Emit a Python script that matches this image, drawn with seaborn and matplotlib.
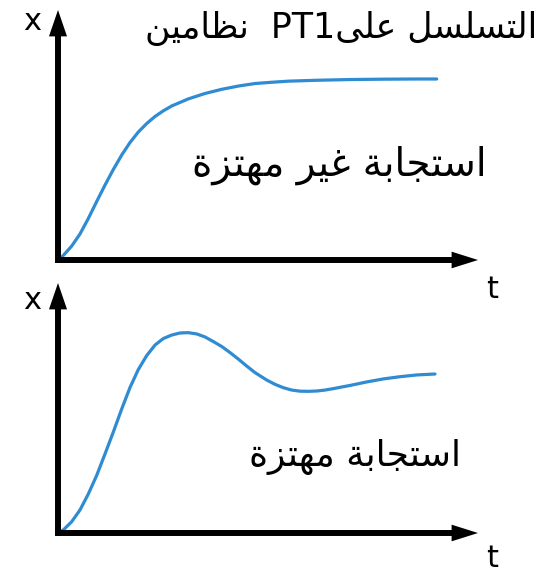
import numpy as np
import pandas as pd
import matplotlib
matplotlib.use("Agg")
import matplotlib.pyplot as plt
import seaborn as sns

# ---- data -------------------------------------------------------------
# non-oscillating step response (aperiodic)
t_aper = [0.0, 0.126, 0.326, 0.524, 0.721, 0.921, 1.119, 1.317, 1.517, 1.714,
          1.912, 2.112, 2.310, 2.507, 2.707, 3.102, 3.500, 3.898, 4.293, 4.690,
          5.088, 5.483, 6.160, 6.952, 7.745, 8.540, 9.017]
x_aper = [0.0, 0.025, 0.077, 0.144, 0.229, 0.323, 0.414, 0.500, 0.580, 0.649,
          0.707, 0.754, 0.793, 0.824, 0.851, 0.890, 0.920, 0.943, 0.961, 0.975,
          0.982, 0.988, 0.993, 0.997, 0.999, 1.0, 1.0]

# oscillating step response
t_osc = [0.0, 0.126, 0.326, 0.524, 0.721, 0.921, 1.119, 1.317, 1.517, 1.714,
         1.912, 2.112, 2.310, 2.507, 2.707, 2.905, 3.102, 3.302, 3.500, 3.698,
         3.898, 4.095, 4.293, 4.493, 4.690, 4.969, 5.167, 5.364, 5.564, 5.762,
         5.960, 6.160, 6.357, 6.555, 6.952, 7.350, 7.745, 8.143, 8.540, 8.976]
x_osc = [0.0, 0.019, 0.071, 0.145, 0.245, 0.362, 0.497, 0.635, 0.780, 0.915,
         1.028, 1.116, 1.182, 1.223, 1.245, 1.258, 1.260, 1.252, 1.233, 1.204,
         1.173, 1.135, 1.094, 1.050, 1.009, 0.962, 0.935, 0.914, 0.899, 0.892,
         0.891, 0.893, 0.899, 0.908, 0.928, 0.950, 0.969, 0.983, 0.994, 1.0]

title_parts = ["نظامين", "  PT1", "على", " ", "التسلسل"]
label_aper = "استجابة غير مهتزة"
label_osc = "استجابة مهتزة"
axis_x_label = "x"
axis_t_label = "t"

# ---- minimal Arabic shaping (contextual forms, visual order) ---------
FORMS = {
    "ا": ("\uFE8D", "\uFE8E", None, None),
    "ب": ("\uFE8F", "\uFE90", "\uFE91", "\uFE92"),
    "ة": ("\uFE93", "\uFE94", None, None),
    "ت": ("\uFE95", "\uFE96", "\uFE97", "\uFE98"),
    "ج": ("\uFE9D", "\uFE9E", "\uFE9F", "\uFEA0"),
    "ر": ("\uFEAD", "\uFEAE", None, None),
    "ز": ("\uFEAF", "\uFEB0", None, None),
    "س": ("\uFEB1", "\uFEB2", "\uFEB3", "\uFEB4"),
    "ظ": ("\uFEC5", "\uFEC6", "\uFEC7", "\uFEC8"),
    "ع": ("\uFEC9", "\uFECA", "\uFECB", "\uFECC"),
    "غ": ("\uFECD", "\uFECE", "\uFECF", "\uFED0"),
    "ل": ("\uFEDD", "\uFEDE", "\uFEDF", "\uFEE0"),
    "م": ("\uFEE1", "\uFEE2", "\uFEE3", "\uFEE4"),
    "ن": ("\uFEE5", "\uFEE6", "\uFEE7", "\uFEE8"),
    "ه": ("\uFEE9", "\uFEEA", "\uFEEB", "\uFEEC"),
    "ى": ("\uFEEF", "\uFEF0", None, None),
    "ي": ("\uFEF1", "\uFEF2", "\uFEF3", "\uFEF4"),
}


def shape(text):
    out = []
    n = len(text)
    for i, c in enumerate(text):
        if c not in FORMS:
            out.append(c)
            continue
        iso, fin, ini, med = FORMS[c]
        prev = text[i - 1] if i > 0 else None
        nxt = text[i + 1] if i < n - 1 else None
        join_prev = prev in FORMS and FORMS[prev][2] is not None
        join_next = ini is not None and nxt in FORMS
        if join_prev and join_next:
            out.append(med)
        elif join_prev:
            out.append(fin)
        elif join_next:
            out.append(ini)
        else:
            out.append(iso)
    return "".join(reversed(out))


def visual(part):
    return part if part.strip().isascii() else shape(part)


# ---- figure -----------------------------------------------------------
sns.set_theme(style="white")
plt.rcParams["font.family"] = ["DejaVu Sans"]

W, H = 546, 572
fig = plt.figure(figsize=(W / 100, H / 100), dpi=100)
fig.patch.set_facecolor("white")


def fx(px):
    return px / W


def fy(py):
    return 1 - py / H


LINE_COLOR = "#2f8bd2"
AX_LW = 4.3


def make_axes(x0, y0, x1, y1, ymax, t, x):
    # origin at pixel (x0, y0); t-axis tip at x1, x-axis tip at y1
    ax = fig.add_axes([fx(x0), fy(y0), fx(x1) - fx(x0), fy(y1) - fy(y0)])
    df = pd.DataFrame({"t": t, "x": x})
    sns.lineplot(data=df, x="t", y="x", ax=ax, color=LINE_COLOR,
                 linewidth=2.3, zorder=3)
    for ln in ax.lines:
        ln.set_solid_joinstyle("round")
        ln.set_solid_capstyle("round")
    ax.set_xlim(0, 10)
    ax.set_ylim(0, ymax)
    ax.set_axis_off()
    ax.patch.set_alpha(0)
    arrow = dict(width=AX_LW, headwidth=13, headlength=19, shrink=0,
                 facecolor="black", edgecolor="black", linewidth=0)
    ax.annotate("", xy=(1, 0), xytext=(-0.007, 0), xycoords="axes fraction",
                textcoords="axes fraction", arrowprops=dict(arrow, headwidth=12),
                zorder=4, annotation_clip=False)
    ax.annotate("", xy=(0, 1), xytext=(0, -0.012), xycoords="axes fraction",
                textcoords="axes fraction", arrowprops=arrow, zorder=4,
                annotation_clip=False)
    return ax


make_axes(58, 260, 478, 10, 250 / 181, t_aper, x_aper)
make_axes(58, 533, 478, 283, 250 / 159, t_osc, x_osc)

txt = dict(color="black", ha="center", va="baseline")
fig.text(fx(32), fy(30), axis_x_label, fontsize=22, **txt)
fig.text(fx(32), fy(309), axis_x_label, fontsize=22, **txt)
fig.text(fx(492), fy(298), axis_t_label, fontsize=22, **txt)
fig.text(fx(492), fy(567), axis_t_label, fontsize=22, **txt)

title = "".join(visual(p) for p in title_parts)
fig.text(fx(341), fy(38), title, fontsize=25, **txt)
fig.text(fx(339), fy(176), shape(label_aper), fontsize=28, **txt)
fig.text(fx(355), fy(466), shape(label_osc), fontsize=26, **txt)

fig.savefig("out.png", dpi=100, facecolor="white")
